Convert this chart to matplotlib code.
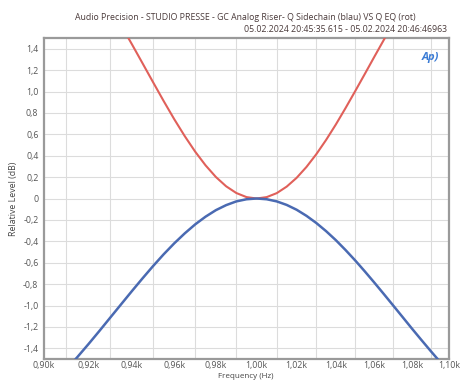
import numpy as np
import matplotlib
matplotlib.use("Agg")
from matplotlib import pyplot as plt
from matplotlib.ticker import FixedLocator, NullFormatter

#%% Data (Hz, dB relative to 1 kHz)
freq = [900, 905, 910, 915, 920, 925, 930, 935, 940, 945, 950, 955, 960, 965, 970, 975,
        980, 985, 990, 995, 1000, 1005, 1010, 1015, 1020, 1025, 1030, 1035, 1040, 1045,
        1050, 1055, 1060, 1065, 1070, 1075, 1080, 1085, 1090, 1095, 1100]
level_blue = [-1.817, -1.710, -1.599, -1.482, -1.362, -1.239, -1.114, -0.990, -0.867, -0.747,
              -0.631, -0.521, -0.419, -0.326, -0.242, -0.170, -0.109, -0.062, -0.027, -0.007,
              0.0, -0.007, -0.027, -0.060, -0.105, -0.162, -0.229, -0.305, -0.389, -0.481,
              -0.578, -0.680, -0.785, -0.892, -1.000, -1.108, -1.216, -1.321, -1.424, -1.524,
              -1.619]
level_red = [2.588, 2.486, 2.372, 2.244, 2.104, 1.952, 1.790, 1.620, 1.444, 1.265,
             1.086, 0.910, 0.741, 0.583, 0.438, 0.310, 0.201, 0.114, 0.051, 0.013,
             0.0, 0.013, 0.050, 0.111, 0.193, 0.295, 0.414, 0.547, 0.691, 0.844,
             1.002, 1.162, 1.323, 1.481, 1.635, 1.782, 1.923, 2.055, 2.178, 2.291,
             2.394]

x_ticks = [900, 920, 940, 960, 980, 1000, 1020, 1040, 1060, 1080, 1100]
x_labels = ['0,90k', '0,92k', '0,94k', '0,96k', '0,98k', '1,00k',
            '1,02k', '1,04k', '1,06k', '1,08k', '1,10k']
x_grid = [910, 920, 930, 940, 950, 960, 970, 980, 990, 1000,
          1010, 1020, 1030, 1040, 1050, 1060, 1070, 1080, 1090]
y_ticks = [-1.4, -1.2, -1.0, -0.8, -0.6, -0.4, -0.2, 0, 0.2, 0.4, 0.6, 0.8, 1.0, 1.2, 1.4]

title1 = 'Audio Precision - STUDIO PRESSE - GC Analog Riser- Q Sidechain (blau) VS Q EQ (rot)'
title2 = '05.02.2024 20:45:35.615 - 05.02.2024 20:46:46963'

#%% Plot
plt.rcParams['font.family'] = ['Open Sans', 'DejaVu Sans']
fig = plt.figure(figsize=(4.63, 3.80), dpi=100)
ax = fig.add_axes([44/463, 21/380, 405/463, 321/380])

ax.set_xscale('log')
ax.set_xlim(900, 1100)
ax.set_ylim(-1.5, 1.5)

ax.xaxis.set_major_locator(FixedLocator(x_ticks))
ax.set_xticklabels(x_labels)
ax.xaxis.set_minor_locator(FixedLocator(x_grid))
ax.xaxis.set_minor_formatter(NullFormatter())
ax.set_yticks(y_ticks)
ax.set_yticklabels(['0' if v == 0 else ('%.1f' % v).replace('.', ',') for v in y_ticks])

ax.tick_params(which='both', length=0, labelsize=6.3, labelcolor='#555555', pad=4)
ax.tick_params(axis='x', pad=1.5)
ax.grid(True, which='minor', axis='x', color='#dcdcdc', lw=0.8)
ax.grid(True, which='major', axis='y', color='#dcdcdc', lw=0.8)
for s in ax.spines.values():
    s.set_color('#9a9a9a')
    s.set_linewidth(1.6)

ax.plot(freq, level_red, color='#e0605a', lw=1.5, zorder=3)
ax.plot(freq, level_blue, color='#4a6ab2', lw=1.8, zorder=3)

ax.set_ylabel('Relative Level (dB)', fontsize=6.3, color='#444444', labelpad=4)
fig.text(246/463, 0.5/380, 'Frequency (Hz)', ha='center', va='bottom', fontsize=5.8,
         color='#444444')

fig.text(245/463, 1 - 18/380, title1, ha='center', va='center', fontsize=6.3, color='#4a3a3a')
fig.text(447/463, 1 - 29/380, title2, ha='right', va='center', fontsize=6.3, color='#4a3a3a')

# AP logo
ax.text(0.955, 0.94, 'Ap)', transform=ax.transAxes, ha='center', va='center',
        fontsize=8, fontweight='bold', style='italic', color='#3a7bd5')

fig.savefig('out.png', dpi=100)
